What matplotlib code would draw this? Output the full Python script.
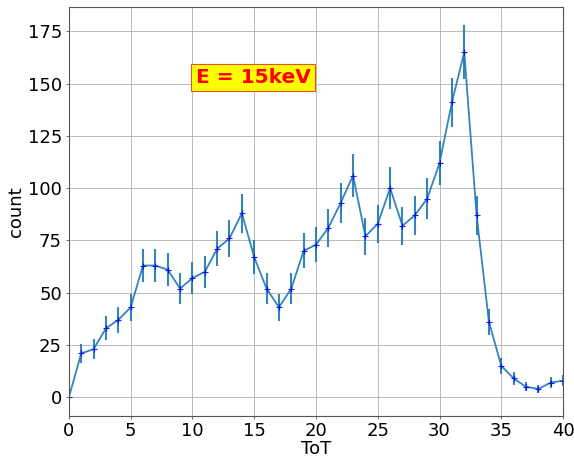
import matplotlib
matplotlib.use("Agg")
import matplotlib.pyplot as plt
import numpy as np

# ToT spectrum at 15 keV
tot = list(range(0, 41))
counts = [0, 21, 23, 33, 37, 43, 63, 63, 61, 52,
          57, 60, 71, 76, 88, 67, 52, 43, 52, 70,
          73, 81, 93, 106, 77, 83, 100, 82, 87, 95,
          112, 141, 165, 87, 36, 15, 9, 5, 4, 7, 8]
# poisson errors
errors = [0.0, 4.6, 4.8, 5.7, 6.1, 6.6, 7.9, 7.9, 7.8, 7.2,
          7.5, 7.7, 8.4, 8.7, 9.4, 8.2, 7.2, 6.6, 7.2, 8.4,
          8.5, 9.0, 9.6, 10.3, 8.8, 9.1, 10.0, 9.1, 9.3, 9.7,
          10.6, 11.9, 12.8, 9.3, 6.0, 3.9, 3.0, 2.2, 2.0, 2.6, 2.8]

plt.rcParams['font.size'] = 13
plt.rcParams['axes.linewidth'] = 0.8
plt.rcParams['axes.edgecolor'] = '#555555'
plt.rcParams['grid.linewidth'] = 0.6
plt.rcParams['grid.color'] = '#b0b0b0'

fig, ax = plt.subplots(figsize=(5.74, 4.58), dpi=100)
fig.subplots_adjust(left=0.12, right=0.981, top=0.985, bottom=0.092)

ax.errorbar(tot, counts, yerr=errors, color='tab:blue', ecolor='tab:blue',
            elinewidth=1.5, linewidth=1.3, marker='+', markersize=5,
            markeredgecolor='b', markeredgewidth=0.8, alpha=0.9)

ax.text(14.9, 153, "E = 15keV", color='red', fontsize=14.5, fontweight='bold',
        ha='center', va='center',
        bbox=dict(facecolor='yellow', edgecolor='#e8502a', pad=3, linewidth=0.8))

ax.set_xlim(0, 40)
ax.tick_params(length=2.5, width=0.6, pad=2.5, color='#555555')
ax.tick_params(axis='x', pad=2)
ax.set_xlabel("ToT", labelpad=0)
ax.set_ylabel("count", labelpad=2)
ax.grid(True)

fig.savefig("out.png")
